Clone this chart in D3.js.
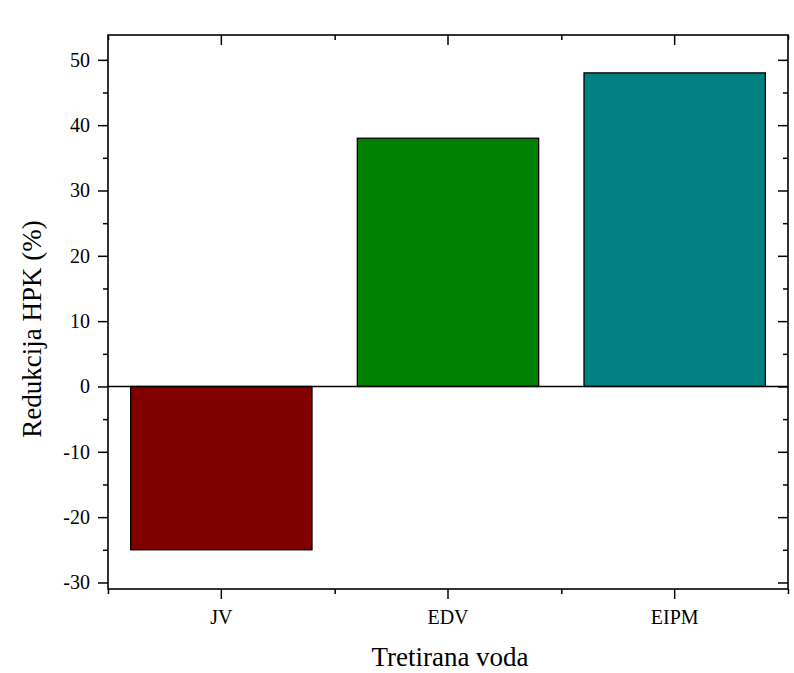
<!DOCTYPE html>
<html>
<head>
<meta charset="utf-8">
<script src="https://cdn.jsdelivr.net/npm/d3@7"></script>
<style>
  html, body { margin: 0; padding: 0; background: #ffffff; }
  svg { display: block; }
  text { font-family: "Liberation Serif", "Times New Roman", serif; fill: #000; }
</style>
</head>
<body>
<svg id="chart" width="794" height="673"></svg>
<script>
// Reduction of HPK per treated water sample
const categories = ["JV", "EDV", "EIPM"];
const values = [-25, 38, 48];
const barColors = ["#800000", "#008000", "#008080"];
const yTicks = [-30, -20, -10, 0, 10, 20, 30, 40, 50];
const yMinorTicks = [-25, -15, -5, 5, 15, 25, 35, 45];
const xTitle = "Tretirana voda";
const yTitle = "Redukcija HPK (%)";

const svg = d3.select("#chart");
const frame = { left: 108, right: 788, top: 35, bottom: 589 };

const x = d3.scaleBand()
  .domain(categories)
  .range([frame.left, frame.right])
  .paddingInner(0.2)
  .paddingOuter(0.1);

const y = d3.scaleLinear()
  .domain([-31, 53.8])
  .range([frame.bottom, frame.top]);

// bars
svg.append("g")
  .selectAll("rect")
  .data(categories)
  .join("rect")
  .attr("x", d => x(d))
  .attr("width", x.bandwidth())
  .attr("y", (d, i) => y(Math.max(0, values[i])))
  .attr("height", (d, i) => Math.abs(y(values[i]) - y(0)))
  .attr("fill", (d, i) => barColors[i])
  .attr("stroke", "#000")
  .attr("stroke-width", 1.3);

// zero line
svg.append("line")
  .attr("x1", frame.left).attr("x2", frame.right)
  .attr("y1", y(0)).attr("y2", y(0))
  .attr("stroke", "#000").attr("stroke-width", 1.5);

// category boundaries for minor x ticks
const step = x.step();
const xBounds = d3.range(categories.length + 1).map(i => frame.left + i * step);

const axisStyle = g => {
  g.attr("font-family", "Liberation Serif").attr("font-size", 20);
  g.select(".domain").remove();
  g.selectAll(".tick line").attr("stroke", "#000").attr("stroke-width", 1.5);
  g.selectAll(".tick text").attr("font-size", 20).attr("font-family", "Liberation Serif");
};

// plain hyphen for negative numbers
const yFormat = d => String(d);

// left axis (outward ticks)
svg.append("g")
  .attr("transform", `translate(${frame.left},0)`)
  .call(d3.axisLeft(y).tickValues(yTicks).tickSize(10).tickPadding(8).tickFormat(yFormat))
  .call(axisStyle);
svg.append("g")
  .attr("transform", `translate(${frame.left},0)`)
  .call(d3.axisLeft(y).tickValues(yMinorTicks).tickSize(5).tickFormat(""))
  .call(axisStyle);

// right axis (inward ticks)
svg.append("g")
  .attr("transform", `translate(${frame.right},0)`)
  .call(d3.axisLeft(y).tickValues(yTicks).tickSize(-10).tickFormat(""))
  .call(g => { g.selectAll(".tick line").attr("transform", "translate(-10,0)"); })
  .call(axisStyle);
svg.append("g")
  .attr("transform", `translate(${frame.right},0)`)
  .call(d3.axisLeft(y).tickValues(yMinorTicks).tickSize(-5).tickFormat(""))
  .call(g => { g.selectAll(".tick line").attr("transform", "translate(-5,0)"); })
  .call(axisStyle);

// bottom axis (outward ticks)
svg.append("g")
  .attr("transform", `translate(0,${frame.bottom})`)
  .call(d3.axisBottom(x).tickSize(10).tickPadding(11))
  .call(axisStyle);
const xLin = d3.scaleLinear().domain([frame.left, frame.right]).range([frame.left, frame.right]);
svg.append("g")
  .attr("transform", `translate(0,${frame.bottom})`)
  .call(d3.axisBottom(xLin).tickValues(xBounds).tickSize(5).tickFormat(""))
  .call(axisStyle);

// top axis (inward ticks)
svg.append("g")
  .attr("transform", `translate(0,${frame.top})`)
  .call(d3.axisBottom(x).tickSize(10).tickFormat(""))
  .call(axisStyle);
svg.append("g")
  .attr("transform", `translate(0,${frame.top})`)
  .call(d3.axisBottom(xLin).tickValues(xBounds).tickSize(5).tickFormat(""))
  .call(axisStyle);

// frame
svg.append("rect")
  .attr("x", frame.left).attr("y", frame.top)
  .attr("width", frame.right - frame.left)
  .attr("height", frame.bottom - frame.top)
  .attr("fill", "none")
  .attr("stroke", "#000")
  .attr("stroke-width", 1.6);

// axis titles
svg.append("text")
  .attr("x", (frame.left + frame.right) / 2 + 2)
  .attr("y", 666)
  .attr("text-anchor", "middle")
  .attr("font-size", 27)
  .text(xTitle);

svg.append("text")
  .attr("transform", `translate(41,${(frame.top + frame.bottom) / 2 + 17}) rotate(-90)`)
  .attr("text-anchor", "middle")
  .attr("font-size", 27)
  .text(yTitle);
</script>
</body>
</html>
